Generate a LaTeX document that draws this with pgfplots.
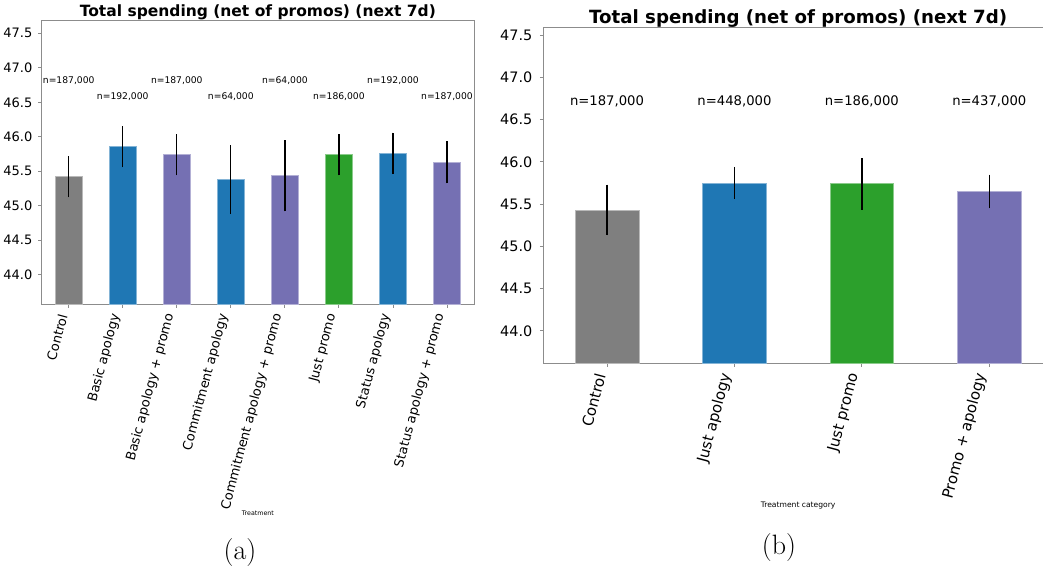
\documentclass[border=0pt]{standalone}
\usepackage{pgfplots}
\pgfplotsset{compat=1.18}
\usepackage{pgfplotstable}
\usepackage{fontspec}
\newfontfamily\djv{DejaVu Sans}

\definecolor{cgray}{HTML}{7F7F7F}
\definecolor{cblue}{HTML}{1F77B4}
\definecolor{cgreen}{HTML}{2CA02C}
\definecolor{cpurple}{HTML}{7570B3}
\definecolor{spine}{HTML}{8C8C8C}

% sample sizes shown above the bars
\pgfplotstableread{
x y label
0 46.817 n=187,000
1 46.585 n=192,000
2 46.817 n=187,000
3 46.585 n=64,000
4 46.817 n=64,000
5 46.585 n=186,000
6 46.817 n=192,000
7 46.585 n=187,000
}\ncountsA
\pgfplotstableread{
x y label
0 46.72 n=187,000
1 46.72 n=448,000
2 46.72 n=186,000
3 46.72 n=437,000
}\ncountsB

\pgfplotsset{
  spendbase/.style={
    scale only axis,
    axis line style={spine, line width=0.9pt},
    tick align=outside,
    xtick pos=bottom, ytick pos=left,
    major tick length=3.5pt,
    every tick/.style={spine, line width=0.9pt},
    ytick={44,44.5,...,47.5},
    yticklabel style={/pgf/number format/fixed, /pgf/number format/fixed zerofill,
      /pgf/number format/precision=1, /pgf/number format/assume math mode=true},
    clip=true,
  },
  barA/.style={ybar, bar width=0.5, bar shift=0pt, fill=#1, draw=#1!55!white, line width=0.7pt,
    error bars/.cd, y dir=both, y explicit,
    error bar style={black, line width=1.3pt}, error mark=none},
}

\begin{document}
\begin{tikzpicture}
\path[use as bounding box] (0,0) rectangle (1043pt,571pt);

% ---------- (a) individual treatments ----------
\begin{axis}[spendbase,
  at={(41.7pt,266.7pt)}, anchor=south west,
  width=432.3pt, height=283.6pt,
  xmin=-0.5, xmax=7.5, ymin=43.571, ymax=47.683,
  xtick={0,...,7},
  xticklabels={Control, Basic apology, Basic apology + promo, Commitment apology,
    Commitment apology + promo, Just promo, Status apology, Status apology + promo},
  xticklabel style={font=\djv\fontsize{13}{15}\selectfont, yshift=-8pt, xshift=-0.5pt, rotate=75, anchor=south east, inner sep=0pt},
  yticklabel style={font=\djv\fontsize{13}{15}\selectfont, anchor=east, inner sep=0pt, xshift=-5.6pt},
  title={Total spending (net of promos) (next 7d)},
  title style={font=\djv\bfseries\fontsize{15.5}{17}\selectfont, anchor=base, at={(axis description cs:0.5,1)}, yshift=-1.4pt},
  xlabel={Treatment},
  xlabel style={font=\djv\fontsize{6.3}{7}\selectfont, at={(axis description cs:0.5,-0.735)}, anchor=center},
]
\addplot[barA=cgray] coordinates {(0,45.42) +- (0,0.30)};
\addplot[barA=cblue] coordinates {(1,45.855) +- (0,0.30) (3,45.38) +- (0,0.50) (6,45.76) +- (0,0.30)};
\addplot[barA=cpurple] coordinates {(2,45.74) +- (0,0.30) (4,45.435) +- (0,0.515) (7,45.63) +- (0,0.305)};
\addplot[barA=cgreen] coordinates {(5,45.74) +- (0,0.30)};
\addplot[only marks, mark=none, point meta=explicit symbolic,
  nodes near coords={\pgfplotspointmeta},
  every node near coord/.style={anchor=center, inner sep=0pt, font=\djv\fontsize{9.2}{10}\selectfont}]
  table[x=x, y=y, meta=label] {\ncountsA};
\end{axis}

% ---------- (b) treatment categories ----------
\begin{axis}[spendbase,
  at={(543.3pt,207.7pt)}, anchor=south west,
  width=509.7pt, height=335.6pt,
  xmin=-0.5, xmax=3.5, ymin=43.617, ymax=47.587,
  xtick={0,...,3},
  xticklabels={Control, Just apology, Just promo, Promo + apology},
  xticklabel style={font=\djv\fontsize{15}{17}\selectfont, yshift=-8.5pt, xshift=-0.5pt, rotate=75, anchor=south east, inner sep=0pt},
  yticklabel style={font=\djv\fontsize{14.4}{16}\selectfont, anchor=east, inner sep=0pt, xshift=-7.3pt},
  title={Total spending (net of promos) (next 7d)},
  title style={font=\djv\bfseries\fontsize{18.2}{20}\selectfont, anchor=base, at={(axis description cs:0.5,1)}, yshift=-2pt},
  xlabel={Treatment category},
  xlabel style={font=\djv\fontsize{7.6}{8}\selectfont, at={(axis description cs:0.5,-0.425)}, anchor=center},
]
\addplot[barA=cgray] coordinates {(0,45.43) +- (0,0.30)};
\addplot[barA=cblue] coordinates {(1,45.75) +- (0,0.19)};
\addplot[barA=cgreen] coordinates {(2,45.74) +- (0,0.305)};
\addplot[barA=cpurple] coordinates {(3,45.65) +- (0,0.20)};
\addplot[only marks, mark=none, point meta=explicit symbolic,
  nodes near coords={\pgfplotspointmeta},
  every node near coord/.style={anchor=center, inner sep=0pt, font=\djv\fontsize{13.2}{15}\selectfont}]
  table[x=x, y=y, meta=label] {\ncountsB};
\end{axis}

% panel captions
\node[font=\fontsize{28}{32}\selectfont] at (240pt,18pt) {(a)};
\node[font=\fontsize{28}{32}\selectfont] at (779pt,23pt) {(b)};
\end{tikzpicture}
\end{document}
